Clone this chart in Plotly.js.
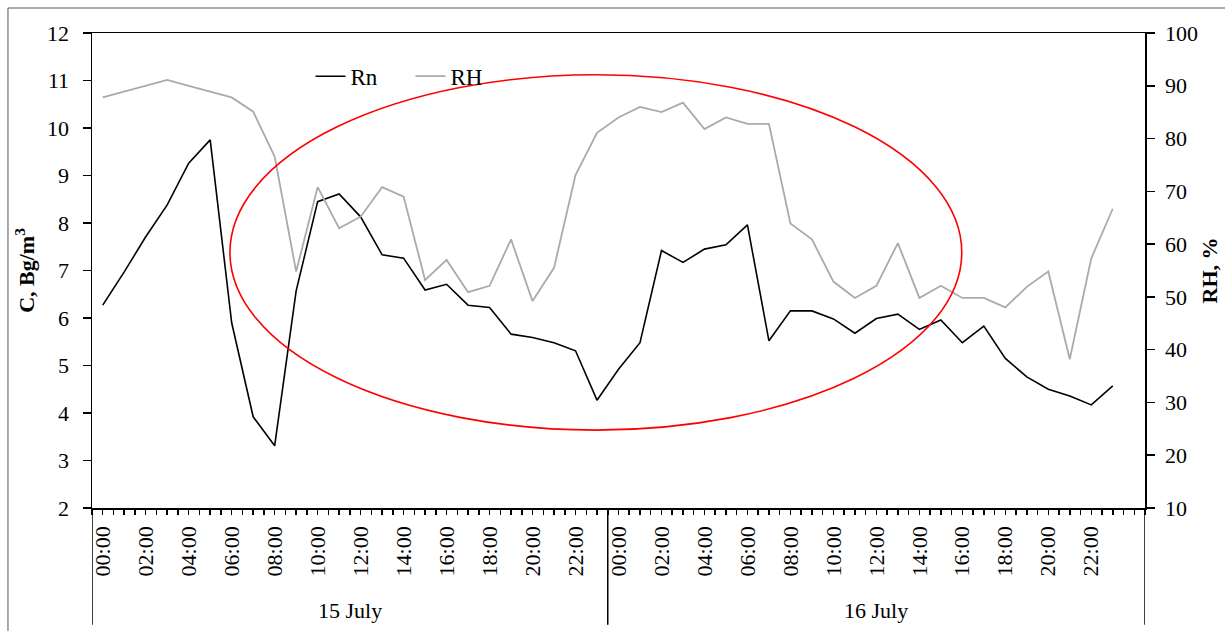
<!DOCTYPE html>
<html>
<head>
<meta charset="utf-8">
<script src="https://cdn.plot.ly/plotly-3.0.1.min.js"></script>
<style>html,body{margin:0;padding:0;background:#fff;}#chart{width:1225px;height:631px;}</style>
</head>
<body>
<div id="chart"></div>
<script>
// Hour index: 0 = 15 July 00:00 ... 47 = 16 July 23:00
const hours = Array.from({length: 48}, (_, i) => i);
const rn = [6.27, 6.97, 7.71, 8.38, 9.26, 9.75, 5.90, 3.92, 3.31, 6.57,
            8.45, 8.61, 8.13, 7.33, 7.26, 6.59, 6.71, 6.27, 6.22, 5.66,
            5.59, 5.48, 5.31, 4.27, 4.92, 5.48, 7.42, 7.17, 7.45, 7.54,
            7.96, 5.52, 6.15, 6.15, 5.98, 5.68, 5.99, 6.08, 5.76, 5.96,
            5.48, 5.83, 5.15, 4.76, 4.50, 4.36, 4.17, 4.57];
const rh = [87.8, 88.9, 90.0, 91.1, 90.0, 88.9, 87.8, 85.1, 76.6, 54.8,
            70.8, 63.0, 65.2, 70.8, 69.0, 53.2, 57.0, 50.9, 52.1, 60.9,
            49.2, 55.5, 73.1, 81.1, 84.0, 86.0, 85.0, 86.8, 81.8, 84.0,
            82.8, 82.8, 63.9, 60.9, 52.9, 49.8, 52.1, 60.2, 49.8, 52.1,
            49.8, 49.8, 48.0, 51.9, 54.8, 38.2, 57.3, 66.7];
const tickPositions = [0,2,4,6,8,10,12,14,16,18,20,22,24,26,28,30,32,34,36,38,40,42,44,46];
const tickLabels = ["00:00","02:00","04:00","06:00","08:00","10:00","12:00","14:00","16:00","18:00","20:00","22:00",
                    "00:00","02:00","04:00","06:00","08:00","10:00","12:00","14:00","16:00","18:00","20:00","22:00"];
const days = ["15 July", "16 July"];
const dayCenters = [11.5, 36];
const dayBounds = [-0.5, 23.5, 48.5];

const F = "Liberation Serif, Times New Roman, serif";

const traces = [
  {x: hours, y: rn, name: "Rn", type: "scatter", mode: "lines",
   line: {color: "#000000", width: 1.6}, yaxis: "y"},
  {x: hours, y: rh, name: "RH", type: "scatter", mode: "lines",
   line: {color: "#aaaaaa", width: 1.8}, yaxis: "y2"}
];

const shapes = dayBounds.map(b => ({
  type: "line", xref: "x", yref: "paper", x0: b, x1: b, y0: 0, y1: -0.246,
  line: {color: "#000", width: 1.5}
}));
shapes.push({
  type: "circle", xref: "paper", yref: "paper",
  x0: 0.131, x1: 0.826, y0: 0.164, y1: 0.912,
  line: {color: "#ff0000", width: 1.6}
});
shapes.push({
  type: "rect", xref: "paper", yref: "paper",
  x0: -0.0798, x1: 1.3, y0: -0.6, y1: 1.0526,
  line: {color: "#555555", width: 1}
});

const annotations = days.map((d, i) => ({
  text: d, x: dayCenters[i], xref: "x", y: -0.215, yref: "paper",
  showarrow: false, font: {family: F, size: 22, color: "#000"}, yanchor: "middle"
}));

const layout = {
  width: 1225, height: 631,
  margin: {l: 92, r: 80, t: 33, b: 123},
  paper_bgcolor: "#fff", plot_bgcolor: "#fff",
  font: {family: F, color: "#000"},
  showlegend: true,
  legend: {orientation: "h", x: 0.2075, y: 0.909, xanchor: "left", yanchor: "middle",
           entrywidth: 55, entrywidthmode: "pixels",
           bgcolor: "rgba(0,0,0,0)", font: {family: F, size: 23}},
  xaxis: {
    range: [-0.5, 48.5], showgrid: false, zeroline: false,
    showline: true, linecolor: "#000", linewidth: 1.5, mirror: true,
    tickmode: "array", tickvals: tickPositions, ticktext: tickLabels,
    ticks: "outside", ticklen: 5, tickcolor: "#000", tickwidth: 1.5,
    ticklabelstandoff: 3,
    tickangle: -90, tickfont: {family: F, size: 22},
    minor: {tickmode: "linear", tick0: -0.5, dtick: 0.5, ticks: "outside", ticklen: 5, tickcolor: "#000", tickwidth: 1.5, showgrid: false}
  },
  yaxis: {
    range: [2, 12], dtick: 1, showgrid: false, zeroline: false,
    showline: true, linecolor: "#000", linewidth: 1.5,
    ticks: "outside", ticklen: 8, tickcolor: "#000", tickwidth: 1.5,
    ticklabelstandoff: 9,
    tickfont: {family: F, size: 22},
    title: {text: "<b>C, Bg/m<sup>3</sup></b>", font: {family: F, size: 22}, standoff: 6}
  },
  yaxis2: {
    range: [10, 100], dtick: 10, overlaying: "y", side: "right",
    showgrid: false, zeroline: false,
    showline: true, linecolor: "#000", linewidth: 1.5,
    ticks: "outside", ticklen: 8, tickcolor: "#000", tickwidth: 1.5,
    ticklabelstandoff: 6,
    tickfont: {family: F, size: 22},
    title: {text: "<b>RH, %</b>", font: {family: F, size: 22}, standoff: 4}
  },
  shapes: shapes,
  annotations: annotations
};

Plotly.newPlot("chart", traces, layout, {displayModeBar: false, staticPlot: true});
</script>
</body>
</html>
